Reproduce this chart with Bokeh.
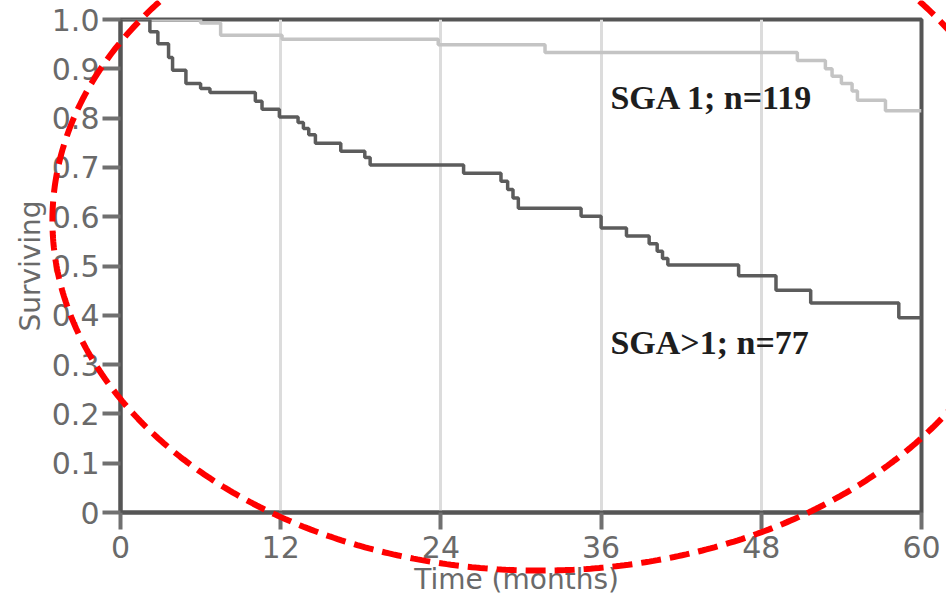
import numpy as np
from bokeh.plotting import figure
from bokeh.layouts import column
from bokeh.models import Range1d, FixedTicker
from bokeh.core.properties import value
from bokeh.embed import file_html
from bokeh.resources import INLINE

# ---- data (Kaplan-Meier step curves) ----
time_sga_le1 = [0, 6.0, 7.5, 12.1, 23.8, 31.8, 50.7, 52.8, 53.3, 54.0, 54.8, 55.2, 57.3, 60]
surv_sga_le1 = [1.0, 0.993, 0.968, 0.960, 0.949, 0.933, 0.917, 0.900, 0.885, 0.870, 0.855, 0.836, 0.815, 0.815]

time_sga_gt1 = [0, 2.2, 2.8, 3.6, 3.9, 4.9, 6.0, 6.7, 10.1, 10.6, 11.9, 13.3, 13.7, 14.1, 14.6,
                16.5, 18.3, 18.7, 25.7, 28.5, 29.0, 29.4, 29.8, 34.5, 36.0, 37.9, 39.6, 40.2,
                40.6, 41.0, 46.3, 49.1, 51.7, 58.3, 60]
surv_sga_gt1 = [1.0, 0.975, 0.951, 0.923, 0.897, 0.870, 0.860, 0.852, 0.834, 0.818, 0.802, 0.791,
                0.779, 0.766, 0.749, 0.733, 0.720, 0.705, 0.688, 0.672, 0.655, 0.638, 0.617,
                0.601, 0.577, 0.561, 0.545, 0.530, 0.515, 0.502, 0.480, 0.451, 0.425, 0.395, 0.395]

x_ticks = [0, 12, 24, 36, 48, 60]
y_ticks = [0, 0.1, 0.2, 0.3, 0.4, 0.5, 0.6, 0.7, 0.8, 0.9, 1.0]
y_tick_labels = {0: "0", 0.1: "0.1", 0.2: "0.2", 0.3: "0.3", 0.4: "0.4", 0.5: "0.5",
                 0.6: "0.6", 0.7: "0.7", 0.8: "0.8", 0.9: "0.9", 1: "1.0"}
grid_months = [12, 24, 36, 48]

label_le1 = "SGA 1; n=119"
label_gt1 = "SGA>1; n=77"

# ---- layout / annotation placement ----
W, H = 946, 598
B_LEFT, B_RIGHT, B_TOP, B_BOTTOM = 120, 25, 19, 85
X0, X1, Y0, Y1 = 0, 60, 0, 1.0
label_le1_pos = (36.7, 0.842)
label_gt1_pos = (36.7, 0.344)
ellipse_center = (31.4, 0.593)
ellipse_radii = (36.5, 0.7085)

p = figure(width=W, height=H, output_backend="svg", toolbar_location=None,
           x_range=Range1d(X0, X1), y_range=Range1d(Y0, Y1),
           min_border_left=B_LEFT, min_border_right=B_RIGHT,
           min_border_top=B_TOP, min_border_bottom=B_BOTTOM,
           background_fill_color="white", border_fill_color="white")
p.frame_align = False

# grid
p.xgrid.ticker = FixedTicker(ticks=grid_months)
p.xgrid.grid_line_color = "#dcdcdc"
p.xgrid.grid_line_width = 3
p.ygrid.grid_line_color = None

# outline
p.outline_line_color = "#555555"
p.outline_line_width = 4
p.outline_line_alpha = 1

# curves
p.step(time_sga_le1, surv_sga_le1, mode="after", line_color="#c4c4c4", line_width=3.5)
p.step(time_sga_gt1, surv_sga_gt1, mode="after", line_color="#5c5c5c", line_width=3.5)

# axes
for ax in (p.xaxis[0], p.yaxis[0]):
    ax.axis_line_color = "#555555"
    ax.axis_line_width = 4
    ax.major_tick_line_color = "#707070"
    ax.major_tick_line_width = 4
    ax.major_tick_in = 0
    ax.minor_tick_line_color = None
    ax.major_label_text_font = "DejaVu Sans"
    ax.major_label_text_font_size = "30px"
    ax.major_label_text_color = "#6a6a6a"
    ax.axis_label_text_font = "DejaVu Sans"
    ax.axis_label_text_font_size = "28px"
    ax.axis_label_text_font_style = "normal"
    ax.axis_label_text_color = "#6a6a6a"

p.xaxis.ticker = FixedTicker(ticks=x_ticks)
p.xaxis.major_tick_out = 17
p.xaxis.major_label_standoff = 6
p.xaxis.axis_label = "Time  (months)"
p.xaxis.axis_label_standoff = 2

p.yaxis.ticker = FixedTicker(ticks=y_ticks)
p.yaxis.major_label_overrides = y_tick_labels
p.yaxis.major_tick_out = 18
p.yaxis.major_label_standoff = 3
p.yaxis.axis_label = "Surviving"
p.yaxis.axis_label_standoff = 2

# group labels
p.text(x=[label_le1_pos[0]], y=[label_le1_pos[1]], text=[label_le1],
       text_font=value("Liberation Serif"), text_font_style="bold", text_font_size="34px",
       text_color="#1e1e1e", text_baseline="middle", text_align="left")
p.text(x=[label_gt1_pos[0]], y=[label_gt1_pos[1]], text=[label_gt1],
       text_font=value("Liberation Serif"), text_font_style="bold", text_font_size="34px",
       text_color="#1e1e1e", text_baseline="middle", text_align="left")

# transparent overlay covering the whole canvas, sharing the main plot's data space,
# so the red dashed highlight ellipse can extend beyond the plot frame
sx = (X1 - X0) / (W - B_LEFT - B_RIGHT)
sy = (Y1 - Y0) / (H - B_TOP - B_BOTTOM)
ov = figure(width=W, height=H, output_backend="svg", toolbar_location=None,
            x_range=Range1d(X0 - B_LEFT * sx, X1 + B_RIGHT * sx),
            y_range=Range1d(Y0 - B_BOTTOM * sy, Y1 + B_TOP * sy),
            x_axis_location=None, y_axis_location=None, min_border=0,
            background_fill_alpha=0, border_fill_alpha=0)
ov.frame_align = False
ov.outline_line_color = None
ov.grid.visible = False
theta = np.linspace(0.0, 2.0 * np.pi, 721)
ov.line(ellipse_center[0] + ellipse_radii[0] * np.cos(theta),
        ellipse_center[1] + ellipse_radii[1] * np.sin(theta),
        line_color="#ff0000", line_width=6, line_dash="20 9")
ov.margin = (-H, 0, 0, 0)

layout = column(p, ov, spacing=0)
open("out.html", "w").write(file_html(layout, INLINE))
